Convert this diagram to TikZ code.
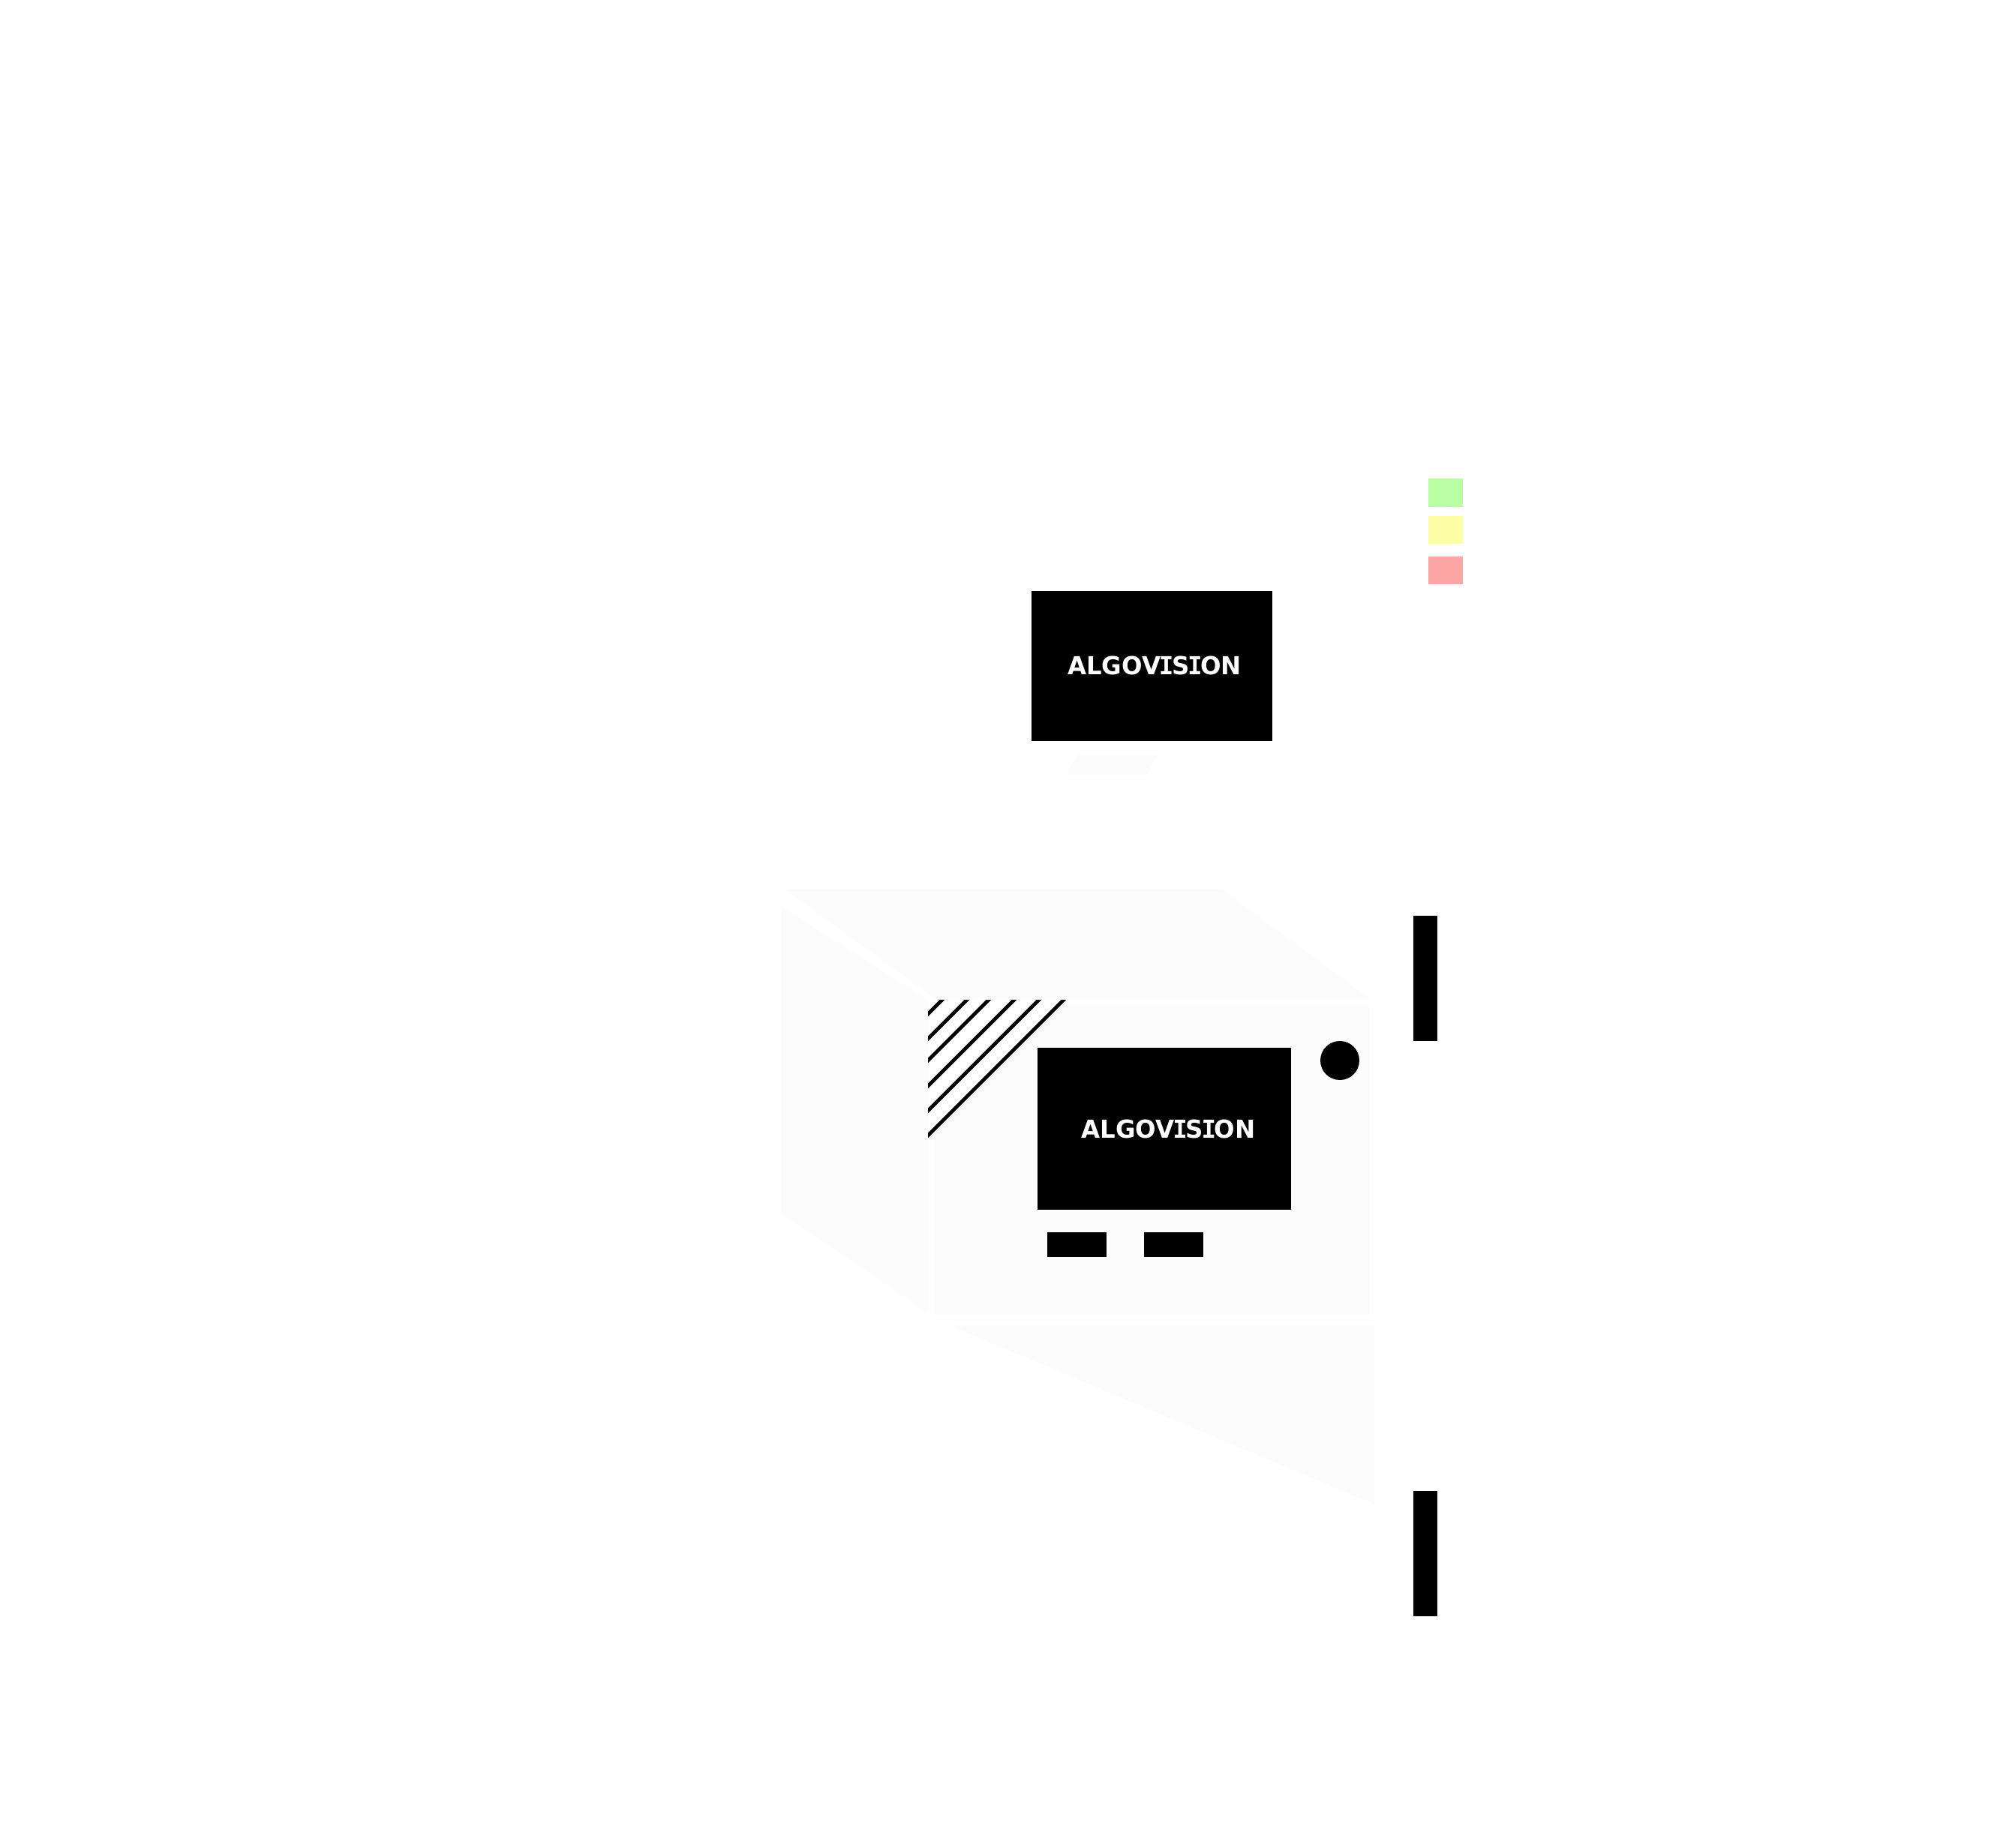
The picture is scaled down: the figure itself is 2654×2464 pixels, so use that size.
\documentclass[tikz,border=0pt]{standalone}
\usepackage{fontspec}
\setmainfont{DejaVu Sans}
\newfontfamily\serifmono{DejaVu Sans Mono}
\newcommand{\seriI}{\kern-0.07em{\serifmono\bfseries I}\kern-0.07em}
\definecolor{panel}{HTML}{FCFCFC}
\definecolor{faint}{HTML}{FCFCFC}
\definecolor{lgreen}{HTML}{BAFFA4}
\definecolor{lyellow}{HTML}{FDFDA6}
\definecolor{lred}{HTML}{FDA6A6}
\newlength{\pxu}
\setlength{\pxu}{0.2713pt}
\tikzset{
  facefill/.style={fill=panel,draw=none},
  solidblock/.style={fill=black,draw=none},
  hatchline/.style={draw=black,line width=5\pxu},
  brandtext/.style={text=white,font=\fontsize{9.4}{11}\selectfont\bfseries,inner sep=0pt,xscale=0.98}
}
\begin{document}
\begin{tikzpicture}[x=0.01cm,y=-0.01cm]
\useasboundingbox (0,0) rectangle (2654,2464);
\fill[white] (0,0) rectangle (2654,2464);
% lamps
\fill[lgreen] (1904,638) rectangle (1950,675.5);
\fill[lyellow] (1904,688) rectangle (1950,725);
\fill[lred] (1904,742) rectangle (1950,779);
% upper monitor
\fill[solidblock] (1375,788) rectangle (1696,988);
\node[brandtext] (brandtop) at (1539,887) {ALGOV\seriI S\seriI ON};
\fill[faint] (1437,1006) -- (1543,1006) -- (1528,1033) -- (1421,1033) -- cycle;
% box faces
\fill[facefill] (1045,1185) -- (1628,1185) -- (1825,1331) -- (1246,1331) -- cycle;
\fill[facefill] (1041,1209) -- (1237,1333) -- (1237,1750) -- (1041,1618) -- cycle;
\fill[facefill] (1246,1339) rectangle (1825,1753);
\fill[facefill] (1266,1767) -- (1833,1767) -- (1833,2006) -- cycle;
% hatched corner
\fill[white] (1237,1333) -- (1420,1333) -- (1237,1516) -- cycle;
\begin{scope}
\clip (1237,1333) rectangle (1430,1525);
\foreach \k in {19,52,81,115,148,181}{
  \draw[hatchline] (1237+\k+10,1333-10) -- (1237-10,1333+\k+10);
}
\end{scope}
% lower monitor
\fill[solidblock] (1383,1397) rectangle (1721,1613);
\node[brandtext] (brandlow) at (1557.5,1505) {ALGOV\seriI S\seriI ON};
\fill[solidblock] (1396,1642.5) rectangle (1475,1676);
\fill[solidblock] (1525,1642.5) rectangle (1604,1676);
\fill[solidblock] (1786,1414) circle (26);
% bars
\fill[solidblock] (1884,1221) rectangle (1916,1387.5);
\fill[solidblock] (1884,1988) rectangle (1916,2154.5);
\end{tikzpicture}
\end{document}
